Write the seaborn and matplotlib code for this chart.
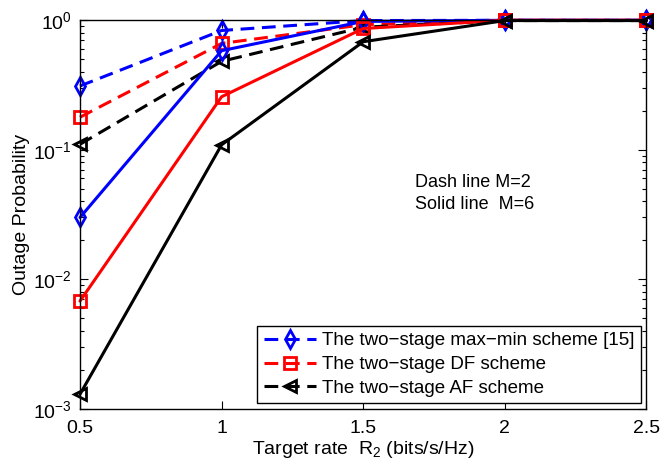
import matplotlib
matplotlib.use("Agg")
import matplotlib.pyplot as plt
import seaborn as sns
import numpy as np
import pandas as pd
from matplotlib.ticker import LogLocator, FixedLocator

# Datos
rates = [0.5, 1.0, 1.5, 2.0, 2.5]
maxmin_m2 = [0.31, 0.83, 0.99, 0.995, 0.995]
df_m2 = [0.178, 0.66, 0.92, 0.995, 0.995]
af_m2 = [0.11, 0.48, 0.88, 0.99, 0.99]
maxmin_m6 = [0.030, 0.58, 0.975, 0.995, 0.995]
df_m6 = [0.0068, 0.256, 0.86, 0.995, 0.995]
af_m6 = [0.0013, 0.109, 0.68, 0.99, 0.99]

labels = ["The two\u2212stage max\u2212min scheme [15]",
          "The two\u2212stage DF scheme",
          "The two\u2212stage AF scheme"]

sns.set_style("ticks")
plt.rcParams["font.family"] = ["Liberation Sans", "DejaVu Sans"]
plt.rcParams["mathtext.default"] = "regular"
for k in ["text.color", "axes.labelcolor", "xtick.color", "ytick.color"]:
    plt.rcParams[k] = "black"

fig = plt.figure(figsize=(6.7, 4.62), dpi=100)
ax = fig.add_axes([0.1194, 0.1147, 0.8454, 0.842])

series = [
    (maxmin_m2, "blue", "--", "d"),
    (df_m2, "red", "--", "s"),
    (af_m2, "black", "--", "<"),
    (maxmin_m6, "blue", "-", "d"),
    (df_m6, "red", "-", "s"),
    (af_m6, "black", "-", "<"),
]
handles = []
for vals, col, ls, mk in series:
    d = pd.DataFrame({"rate": rates, "p": vals})
    sns.lineplot(data=d, x="rate", y="p", ax=ax, color=col, linestyle=ls,
                 marker=mk, markersize=9, markerfacecolor="none",
                 markeredgecolor=col, markeredgewidth=2, linewidth=2.2)
    ln = ax.lines[-1]
    if ls == "--":
        ln.set_dashes((4.5, 2.5))
    ln.set_clip_on(False)
    handles.append(ln)

ax.set_yscale("log")
ax.set_xlim(0.5, 2.5)
ax.set_ylim(1e-3, 1)
ax.xaxis.set_major_locator(FixedLocator([0.5, 1, 1.5, 2, 2.5]))
ax.set_xticklabels(["0.5", "1", "1.5", "2", "2.5"])
ax.yaxis.set_major_locator(LogLocator(base=10, numticks=10))
ax.yaxis.set_minor_locator(LogLocator(base=10, subs=np.arange(2, 10), numticks=20))
ax.tick_params(which="both", direction="in", top=True, right=True, labelsize=14,
               width=0.8, color="black")
ax.tick_params(which="major", length=6)
ax.tick_params(which="minor", length=3)
ax.tick_params(axis="x", pad=8)
ax.tick_params(axis="y", pad=6)
for s in ax.spines.values():
    s.set_linewidth(1.0)
    s.set_color("black")

ax.set_xlabel("Target rate  R$_2$ (bits/s/Hz)", fontsize=14, labelpad=1)
ax.set_ylabel("Outage Probability", fontsize=14, labelpad=2)

ax.text(0.592, 0.57, "Dash line M=2", transform=ax.transAxes, fontsize=13)
ax.text(0.592, 0.513, "Solid line  M=6", transform=ax.transAxes, fontsize=13)

leg = ax.legend(handles[:3], labels, loc="lower right", fontsize=13.5,
                frameon=True, fancybox=False, edgecolor="black", framealpha=1,
                handlelength=2.8, borderaxespad=0.3, labelspacing=0.35,
                borderpad=0.35, handletextpad=0.3)
leg.get_frame().set_linewidth(1.0)

fig.savefig("out.png", dpi=100)
